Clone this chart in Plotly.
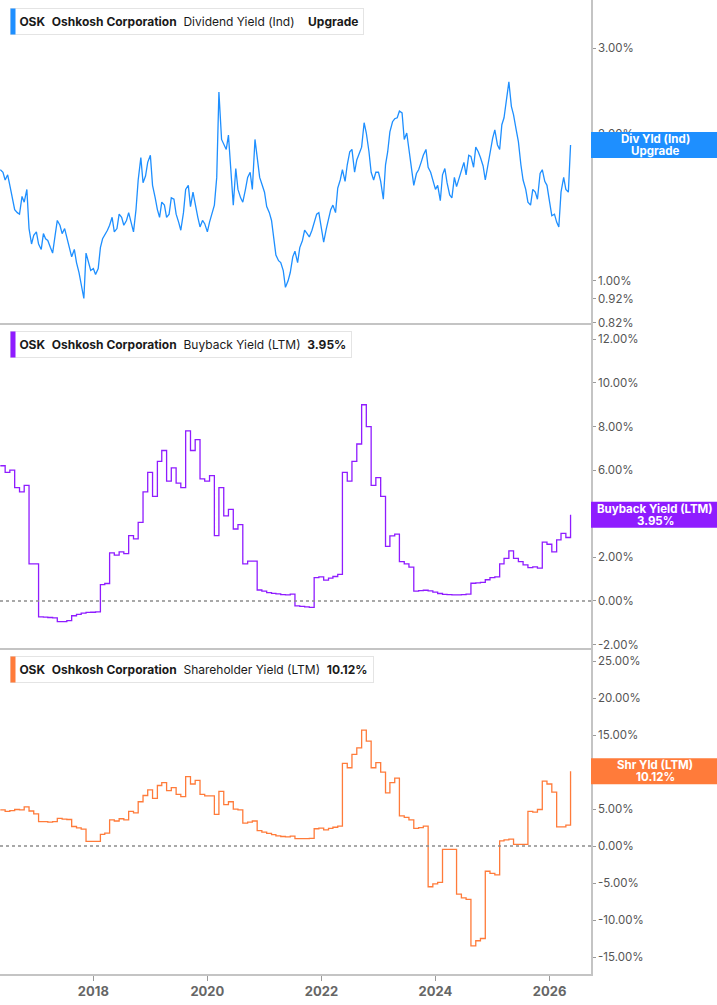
"""OSK yield panels: dividend, buyback and shareholder yield."""

import math

import pandas as pd
import plotly.graph_objects as go
from plotly.subplots import make_subplots


WIDTH, HEIGHT = 717, 1005
PLOT_W, PLOT_H = 591, 974
FONT = "Inter"
BLUE = "#1e8fff"
PURPLE = "#8f1cff"
ORANGE = "#ff7b3a"
AXIS_GRAY = "#c4c4c4"

# dividend yield read twice a month, buyback/shareholder once a month
div_dates = pd.date_range("2016-05-15", "2026-05-15", freq="SMS")
month_dates = pd.date_range("2016-05-15", periods=121, freq=pd.DateOffset(months=1))

div_yield = [
    1.69, 1.67, 1.61, 1.65, 1.57, 1.47, 1.40, 1.38, 1.37, 1.49,
    1.45, 1.54, 1.28, 1.19, 1.24, 1.26, 1.19, 1.16, 1.25, 1.22,
    1.21, 1.17, 1.14, 1.24, 1.33, 1.30, 1.25, 1.28, 1.23, 1.17,
    1.12, 1.16, 1.09, 1.04, 0.98, 0.92, 1.14, 1.09, 1.05, 1.06,
    1.03, 1.06, 1.17, 1.22, 1.24, 1.27, 1.30, 1.35, 1.26, 1.28,
    1.37, 1.35, 1.30, 1.33, 1.38, 1.32, 1.26, 1.40, 1.61, 1.79,
    1.59, 1.64, 1.75, 1.81, 1.57, 1.48, 1.40, 1.35, 1.45, 1.43,
    1.35, 1.37, 1.48, 1.47, 1.37, 1.32, 1.27, 1.38, 1.54, 1.57,
    1.42, 1.52, 1.43, 1.35, 1.29, 1.33, 1.31, 1.26, 1.32, 1.38,
    1.43, 1.63, 2.44, 1.95, 1.90, 1.86, 1.99, 1.61, 1.43, 1.70,
    1.54, 1.48, 1.45, 1.54, 1.63, 1.67, 1.54, 1.95, 1.77, 1.63,
    1.58, 1.52, 1.42, 1.38, 1.33, 1.21, 1.13, 1.10, 1.09, 1.05,
    0.97, 1.00, 1.04, 1.12, 1.15, 1.09, 1.17, 1.21, 1.27, 1.25,
    1.23, 1.27, 1.32, 1.37, 1.38, 1.27, 1.20, 1.28, 1.33, 1.40,
    1.43, 1.38, 1.55, 1.61, 1.69, 1.60, 1.73, 1.84, 1.86, 1.67,
    1.77, 1.83, 1.88, 2.11, 2.01, 1.84, 1.67, 1.61, 1.67, 1.67,
    1.60, 1.47, 1.73, 1.84, 2.02, 2.12, 2.15, 2.16, 2.23, 2.21,
    1.95, 2.01, 1.87, 1.69, 1.57, 1.66, 1.69, 1.75, 1.81, 1.86,
    1.71, 1.67, 1.60, 1.54, 1.57, 1.46, 1.65, 1.70, 1.59, 1.50,
    1.48, 1.63, 1.56, 1.63, 1.70, 1.75, 1.65, 1.81, 1.80, 1.71,
    1.88, 1.84, 1.79, 1.72, 1.61, 1.73, 1.84, 1.96, 2.04, 1.90,
    1.86, 2.09, 2.16, 2.35, 2.56, 2.28, 2.19, 2.04, 1.93, 1.73,
    1.61, 1.54, 1.45, 1.43, 1.54, 1.52, 1.47, 1.66, 1.69, 1.60,
    1.57, 1.45, 1.36, 1.37, 1.32, 1.29, 1.52, 1.63, 1.54, 1.52,
    1.90,
]

buyback_yield = [
    6.2, 5.9, 6.0, 5.2, 5.0, 5.3, 1.7, 1.7, -0.73, -0.74,
    -0.76, -0.78, -0.95, -0.95, -0.9, -0.68, -0.62, -0.56, -0.53, -0.52,
    -0.5, 0.75, 0.8, 2.2, 2.1, 2.25, 2.17, 3.0, 2.85, 3.6,
    5.0, 5.9, 4.8, 6.4, 6.9, 5.5, 6.1, 5.4, 5.2, 7.8,
    6.9, 7.4, 5.6, 5.5, 5.75, 3.0, 5.2, 3.9, 4.2, 3.3,
    3.5, 1.7, 1.83, 1.83, 0.5, 0.45, 0.38, 0.35, 0.32, 0.29,
    0.28, 0.31, -0.23, -0.25, -0.27, -0.3, 1.07, 1.1, 0.95, 1.05,
    1.12, 1.22, 5.9, 5.5, 6.4, 7.2, 9.0, 8.0, 5.3, 5.66,
    4.8, 2.5, 2.98, 3.06, 1.8, 1.7, 1.55, 0.45, 0.47, 0.49,
    0.46, 0.4, 0.34, 0.3, 0.29, 0.28, 0.28, 0.29, 0.31, 0.81,
    0.83, 0.85, 0.97, 1.07, 1.1, 1.7, 1.95, 2.3, 1.95, 1.8,
    1.65, 1.53, 1.56, 1.5, 2.7, 2.6, 2.25, 2.8, 3.1, 2.91,
    3.95,
]

shareholder_yield = [
    4.9, 4.7, 4.8, 4.95, 4.9, 5.3, 4.75, 4.35, 3.3, 3.3,
    3.25, 3.3, 3.75, 3.65, 3.6, 2.65, 2.48, 2.3, 0.65, 0.65,
    0.63, 1.6, 1.75, 3.55, 3.4, 3.7, 3.55, 4.7, 4.5, 6.0,
    6.85, 7.6, 6.45, 8.2, 8.6, 7.5, 7.9, 7.0, 6.7, 9.4,
    8.4, 8.9, 7.0, 6.8, 6.8, 4.3, 7.4, 5.6, 6.0, 5.0,
    4.9, 3.1, 3.25, 3.4, 2.1, 1.9, 1.72, 1.55, 1.38, 1.3,
    1.26, 1.35, 1.0, 1.0, 1.02, 1.04, 2.35, 2.44, 2.2, 2.4,
    2.55, 2.7, 11.2, 10.6, 12.4, 13.3, 15.7, 14.2, 10.6, 11.3,
    10.0, 7.2, 8.6, 9.2, 4.1, 3.9, 3.55, 2.4, 2.5, 2.7,
    -5.5, -5.1, -4.9, -0.45, -0.45, -0.45, -6.5, -7.0, -7.2, -13.5,
    -12.8, -12.5, -3.4, -3.7, -3.9, 0.7, 0.85, 0.95, 0.23, 0.23,
    0.23, 4.7, 4.6, 4.95, 8.8, 8.4, 7.3, 2.6, 2.6, 2.85,
    10.12,
]

div_ticks = [0.82, 0.92, 1.0, 2.0, 3.0]
buyback_ticks = [-2, 0, 2, 4, 6, 8, 10, 12]
shareholder_ticks = [-15, -10, -5, 0, 5, 10, 15, 20, 25]

panels = [
    {
        "dates": div_dates, "values": div_yield, "color": BLUE,
        "shape": "linear", "metric": "Dividend Yield (Ind)", "tag": "Upgrade",
        "box": ("Div Yld (Ind)", "Upgrade"), "log": True,
        "range": [math.log10(0.8195), 0.576], "ticks": div_ticks,
    },
    {
        "dates": month_dates, "values": buyback_yield, "color": PURPLE,
        "shape": "hv", "metric": "Buyback Yield (LTM)", "tag": "3.95%",
        "box": ("Buyback Yield (LTM)", "3.95%"), "log": False,
        "range": [-2.16, 12.75], "ticks": buyback_ticks,
    },
    {
        "dates": month_dates, "values": shareholder_yield, "color": ORANGE,
        "shape": "hv", "metric": "Shareholder Yield (LTM)", "tag": "10.12%",
        "box": ("Shr Yld (LTM)", "10.12%"), "log": False,
        "range": [-17.3, 26.8], "ticks": shareholder_ticks,
    },
]

# pixel rows of the three panels inside the plot area
PANEL_TOPS = [0, 323, 648]
PANEL_BOTTOMS = [323, 648, PLOT_H]


def py(pixel):
    """Pixel row in the plot area -> paper y."""
    return 1 - pixel / PLOT_H


def px(pixel):
    """Pixel column in the plot area -> paper x."""
    return pixel / PLOT_W


def pct_text(v):
    return f"{v:.2f}%"


fig = make_subplots(rows=3, cols=1, shared_xaxes=True, vertical_spacing=0)

for i, panel in enumerate(panels, start=1):
    fig.add_trace(
        go.Scatter(
            x=panel["dates"], y=panel["values"], mode="lines",
            line=dict(color=panel["color"], width=1.3, shape=panel["shape"]),
            hoverinfo="skip", showlegend=False,
        ),
        row=i, col=1,
    )

for i in (2, 3):
    fig.add_hline(y=0, line=dict(color="#8c8c8c", width=1.5, dash="dot"),
                  row=i, col=1)

fig.update_yaxes(
    side="right", showgrid=False, zeroline=False, showline=True,
    linecolor=AXIS_GRAY, linewidth=1.5, ticks="outside", ticklen=3,
    tickcolor="#9a9a9a", tickfont=dict(family=FONT, size=11.5, color="#555555"),
)
for i, panel in enumerate(panels):
    fig.update_yaxes(
        type="log" if panel["log"] else "linear", range=panel["range"],
        tickvals=panel["ticks"], ticktext=[pct_text(v) for v in panel["ticks"]],
        domain=[py(PANEL_BOTTOMS[i]), py(PANEL_TOPS[i])], row=i + 1, col=1,
    )

fig.update_xaxes(
    type="date", range=["2016-05-13", "2026-09-23"], showgrid=False,
    zeroline=False, showline=True, linecolor=AXIS_GRAY, linewidth=1.5,
)
fig.update_xaxes(
    tick0="2018-01-01", dtick="M24", tickformat="%Y", ticks="outside",
    ticklen=5, tickcolor="#9a9a9a",
    tickfont=dict(family=FONT, size=13, color="#666666", weight="bold"),
    row=3, col=1,
)

gap2, gap4 = "\u00a0\u00a0", "\u00a0\u00a0\u00a0\u00a0"
for i, panel in enumerate(panels):
    top = PANEL_TOPS[i] + 8
    sep = gap4 if i == 0 else gap2
    # title chip in the panel's top-left corner
    fig.add_annotation(
        xref="paper", yref="paper", x=px(10), y=py(top),
        xanchor="left", yanchor="top", showarrow=False, align="left",
        text=(f"\u00a0<b>OSK</b>{gap2}<b>Oshkosh Corporation</b>{gap2}"
              f"{panel['metric']}{sep}<b>{panel['tag']}</b>"),
        font=dict(family=FONT, size=12, color="#1a1a1a"),
        bgcolor="white", bordercolor="#e4e4e4", borderwidth=1, borderpad=5,
    )
    # coloured stripe on the chip's left edge
    fig.add_annotation(
        xref="paper", yref="paper", x=px(10), y=py(top),
        xanchor="left", yanchor="top", showarrow=False, text="\u00a0",
        width=4, height=25, borderpad=0, bgcolor=panel["color"],
    )

    # last-value badge on the right axis, placed where the last value sits
    last = panel["values"][-1]
    yval = math.log10(last) if panel["log"] else last
    lo, hi = panel["range"]
    frac = (yval - lo) / (hi - lo)
    badge_y = py(PANEL_BOTTOMS[i]) + frac * (py(PANEL_TOPS[i]) - py(PANEL_BOTTOMS[i]))
    fig.add_shape(
        type="rect", xref="paper", yref="paper", layer="above",
        xsizemode="pixel", xanchor=1, x0=0, x1=127,
        ysizemode="pixel", yanchor=badge_y, y0=-13, y1=13,
        fillcolor=panel["color"], line=dict(width=0),
    )
    for line_text, shift in zip(panel["box"], (6, -6)):
        fig.add_annotation(
            xref="paper", yref="paper", x=1, y=badge_y, xanchor="center",
            yanchor="middle", xshift=64, yshift=shift, showarrow=False,
            text=f"<b>{line_text}</b>",
            font=dict(family=FONT, size=11.5, color="white"),
        )

fig.update_layout(
    width=WIDTH, height=HEIGHT,
    margin=dict(l=0, r=WIDTH - PLOT_W, t=0, b=HEIGHT - PLOT_H),
    paper_bgcolor="white", plot_bgcolor="white",
    font=dict(family=FONT),
)

fig.write_html(
    "out.html",
    config={"displayModeBar": False},
    post_script="document.body.style.margin = '0';",
)
